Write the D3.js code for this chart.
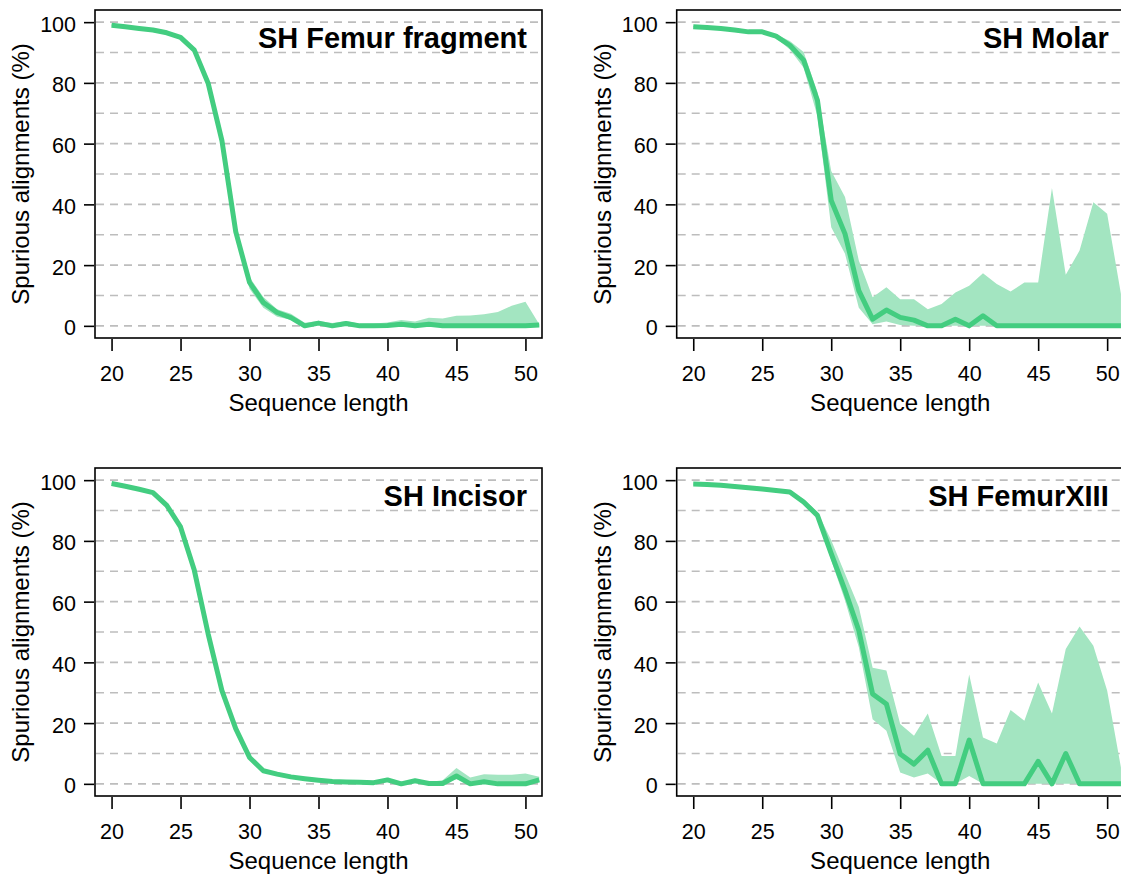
<!DOCTYPE html>
<html>
<head>
<meta charset="utf-8">
<script src="https://cdn.jsdelivr.net/npm/d3@7"></script>
<style>
  body { margin: 0; background: #fff; }
  svg { display: block; font-family: "Liberation Sans", Arial, sans-serif; }
</style>
</head>
<body>
<div id="chart-area"></div>
<script>
// sequence lengths on the x axis
const lengths = [20, 21, 22, 23, 24, 25, 26, 27, 28, 29, 30, 31, 32, 33, 34, 35,
  36, 37, 38, 39, 40, 41, 42, 43, 44, 45, 46, 47, 48, 49, 50, 51];

const titles = ['SH Femur fragment', 'SH Molar', 'SH Incisor', 'SH FemurXIII'];

const xTicks = [20, 25, 30, 35, 40, 45, 50];
const yTicks = [0, 20, 40, 60, 80, 100];
const gridLines = [0, 10, 20, 30, 40, 50, 60, 70, 80, 90, 100];

// SH Femur fragment
const femurFragLine = [99.0, 98.5, 97.9, 97.4, 96.5, 95.0, 90.8, 79.9, 61.0, 31.0,
  14.3, 7.7, 4.4, 2.7, 0.0, 0.9, 0.0, 0.8, 0.0, 0.0,
  0.1, 0.5, 0.0, 0.5, 0.0, 0.0, 0.0, 0.0, 0.0, 0.0, 0.0, 0.3];
const femurFragUpper = [99.3, 98.8, 98.2, 97.7, 96.9, 95.5, 91.5, 81.0, 62.5, 33.0,
  16.0, 9.5, 5.5, 4.0, 1.0, 1.6, 0.9, 1.6, 0.7, 0.8,
  1.1, 1.9, 1.4, 2.7, 2.4, 3.3, 3.4, 3.8, 4.6, 6.6, 7.9, 0.5];
const femurFragLower = [98.7, 98.2, 97.6, 97.1, 96.1, 94.5, 90.1, 78.8, 59.5, 29.0,
  12.2, 6.0, 3.0, 2.0, 0.0, 0.4, 0.0, 0.3, 0.0, 0.0,
  0, 0, 0, 0, 0, 0, 0, 0, 0, 0, 0, 0];

// SH Molar
const molarLine = [98.5, 98.2, 97.9, 97.4, 96.8, 96.8, 95.4, 92.4, 87.5, 74.3,
  41.3, 30.3, 11.6, 2.2, 5.2, 2.8, 1.9, 0.0, 0.0, 2.2,
  0.0, 3.3, 0, 0, 0, 0, 0, 0, 0, 0, 0, 0];
const molarUpper = [98.7, 98.4, 98.1, 97.6, 97.0, 97.0, 96.0, 93.8, 90.2, 77.0,
  51.0, 42.4, 21.5, 9.4, 12.7, 8.8, 8.8, 5.5, 7.2, 11.0,
  13.2, 17.3, 13.8, 11.3, 14.3, 14.3, 45.4, 16.8, 24.8, 40.7, 36.9, 10.5];
const molarLower = [98.3, 98.0, 97.7, 97.2, 96.6, 96.6, 94.8, 91.0, 85.0, 69.0,
  32.5, 23.7, 6.0, 0.5, 1.4, 0.3, 0, 0, 0, 0,
  0, 0, 0, 0, 0, 0, 0, 0, 0, 0, 0, 0];

// SH Incisor
const incisorLine = [98.9, 98.0, 97.0, 95.9, 91.7, 84.6, 70.3, 49.4, 30.7, 18.2,
  8.7, 4.3, 3.2, 2.3, 1.7, 1.2, 0.8, 0.6, 0.5, 0.4,
  1.3, 0.0, 1.0, 0.1, 0.1, 2.6, 0.0, 0.7, 0.0, 0.0, 0.0, 1.3];
const incisorUpper = [99.1, 98.2, 97.2, 96.1, 92.0, 85.0, 70.8, 50.0, 31.3, 18.8,
  9.2, 4.8, 3.6, 2.7, 2.1, 1.6, 1.2, 1.0, 0.9, 0.8,
  1.8, 0.5, 1.4, 0.6, 1.2, 5.2, 2.1, 3.2, 3.0, 3.0, 3.4, 2.3];
const incisorLower = [98.7, 97.8, 96.8, 95.7, 91.4, 84.2, 69.8, 48.8, 30.1, 17.6,
  8.2, 3.8, 2.8, 1.9, 1.3, 0.8, 0.4, 0.2, 0.1, 0.1,
  0.8, 0.0, 0.6, 0.0, 0.0, 1.5, 0.0, 0.2, 0.0, 0.0, 0.0, 0.8];

// SH FemurXIII
const femurXIIILine = [98.7, 98.6, 98.3, 97.9, 97.5, 97.1, 96.6, 96.1, 92.8, 88.4,
  75.8, 63.7, 50.5, 29.6, 26.3, 9.8, 6.5, 11.1, 0.0, 0.0,
  14.4, 0.0, 0.0, 0.0, 0.0, 7.4, 0.0, 10.0, 0.0, 0.0, 0.0, 0.0];
const femurXIIIUpper = [98.9, 98.8, 98.5, 98.1, 97.7, 97.3, 96.8, 96.4, 93.8, 89.5,
  80.2, 69.2, 58.2, 38.2, 37.3, 19.7, 15.8, 23.2, 9.2, 9.2,
  36.0, 15.3, 13.3, 24.3, 20.8, 33.4, 23.2, 44.4, 51.8, 45.5, 30.7, 5.4];
const femurXIIILower = [98.5, 98.4, 98.1, 97.7, 97.3, 96.9, 96.4, 95.8, 92.0, 87.5,
  73.6, 60.4, 45.0, 21.3, 17.5, 3.7, 2.1, 3.4, 0.0, 0.0,
  2.6, 0, 0, 0, 0, 0, 0, 0, 0, 0, 0, 0];

const panels = [
  { title: titles[0], line: femurFragLine, upper: femurFragUpper, lower: femurFragLower },
  { title: titles[1], line: molarLine, upper: molarUpper, lower: molarLower },
  { title: titles[2], line: incisorLine, upper: incisorUpper, lower: incisorLower },
  { title: titles[3], line: femurXIIILine, upper: femurXIIIUpper, lower: femurXIIILower }
];

const margin = { left: 95, top: 10 },
  width = 447,
  height = 328,
  stepX = 581.7,
  stepY = 458;

const lineColor = '#43cd80',
  bandColor = '#a3e5c1';

let svg = d3.select('#chart-area')
  .append('svg')
  .attr('width', 1121)
  .attr('height', 875)

let x = d3.scaleLinear()
  .domain([18.8, 51.2])
  .range([0, width])

let y = d3.scaleLinear()
  .domain([-4, 104])
  .range([height, 0])

svg.append('defs').append('clipPath')
  .attr('id', 'plot-clip')
  .append('rect')
  .attr('width', width)
  .attr('height', height)

panels.forEach((p, i) => {
  let col = i % 2, row = Math.floor(i / 2);
  let g = svg.append('g')
    .attr('transform', `translate(${margin.left + col * stepX}, ${margin.top + row * stepY})`)

  // dashed grid
  g.selectAll('.grid')
    .data(gridLines)
    .join('line')
    .attr('class', 'grid')
    .attr('x1', 1)
    .attr('x2', width - 1)
    .attr('y1', d => y(d))
    .attr('y2', d => y(d))
    .attr('stroke', '#bdbdbd')
    .attr('stroke-width', 1.6)
    .attr('stroke-dasharray', '8,6')

  let rows = lengths.map((len, j) => ({ len: len, v: p.line[j], hi: p.upper[j], lo: p.lower[j] }))

  let plot = g.append('g').attr('clip-path', 'url(#plot-clip)')

  plot.append('path')
    .datum(rows)
    .attr('fill', bandColor)
    .attr('d', d3.area()
      .x(d => x(d.len))
      .y0(d => y(d.lo))
      .y1(d => y(d.hi)))

  plot.append('path')
    .datum(rows)
    .attr('fill', 'none')
    .attr('stroke', lineColor)
    .attr('stroke-width', 5)
    .attr('stroke-linejoin', 'round')
    .attr('d', d3.line()
      .x(d => x(d.len))
      .y(d => y(d.v)))

  // axes
  let xAxis = g.append('g')
    .attr('transform', `translate(0, ${height + 1})`)
    .call(d3.axisBottom(x).tickValues(xTicks).tickSize(12).tickPadding(15).tickFormat(d3.format('d')))
  let yAxis = g.append('g')
    .attr('transform', 'translate(-1, 0)')
    .call(d3.axisLeft(y).tickValues(yTicks).tickSize(10).tickPadding(8))

  ;[xAxis, yAxis].forEach(a => {
    a.select('.domain').remove()
    a.selectAll('line').attr('stroke', '#000').attr('stroke-width', 1.6)
    a.selectAll('text')
      .attr('fill', '#000')
      .style('font-size', '21.5px')
      .style('font-family', '"Liberation Sans", Arial, sans-serif')
  })
  yAxis.selectAll('text').attr('dy', '0.42em')

  g.append('rect')
    .attr('width', width)
    .attr('height', height)
    .attr('fill', 'none')
    .attr('stroke', '#000')
    .attr('stroke-width', 1.6)

  g.append('text')
    .attr('x', width - 15)
    .attr('y', 38)
    .attr('text-anchor', 'end')
    .style('font-size', '29px')
    .style('font-weight', 'bold')
    .text(p.title)

  g.append('text')
    .attr('x', width / 2)
    .attr('y', height + 73)
    .attr('text-anchor', 'middle')
    .style('font-size', '24px')
    .text('Sequence length')

  g.append('text')
    .attr('transform', `translate(-66, ${height / 2}) rotate(-90)`)
    .attr('text-anchor', 'middle')
    .style('font-size', '24px')
    .text('Spurious alignments (%)')
})
</script>
</body>
</html>
